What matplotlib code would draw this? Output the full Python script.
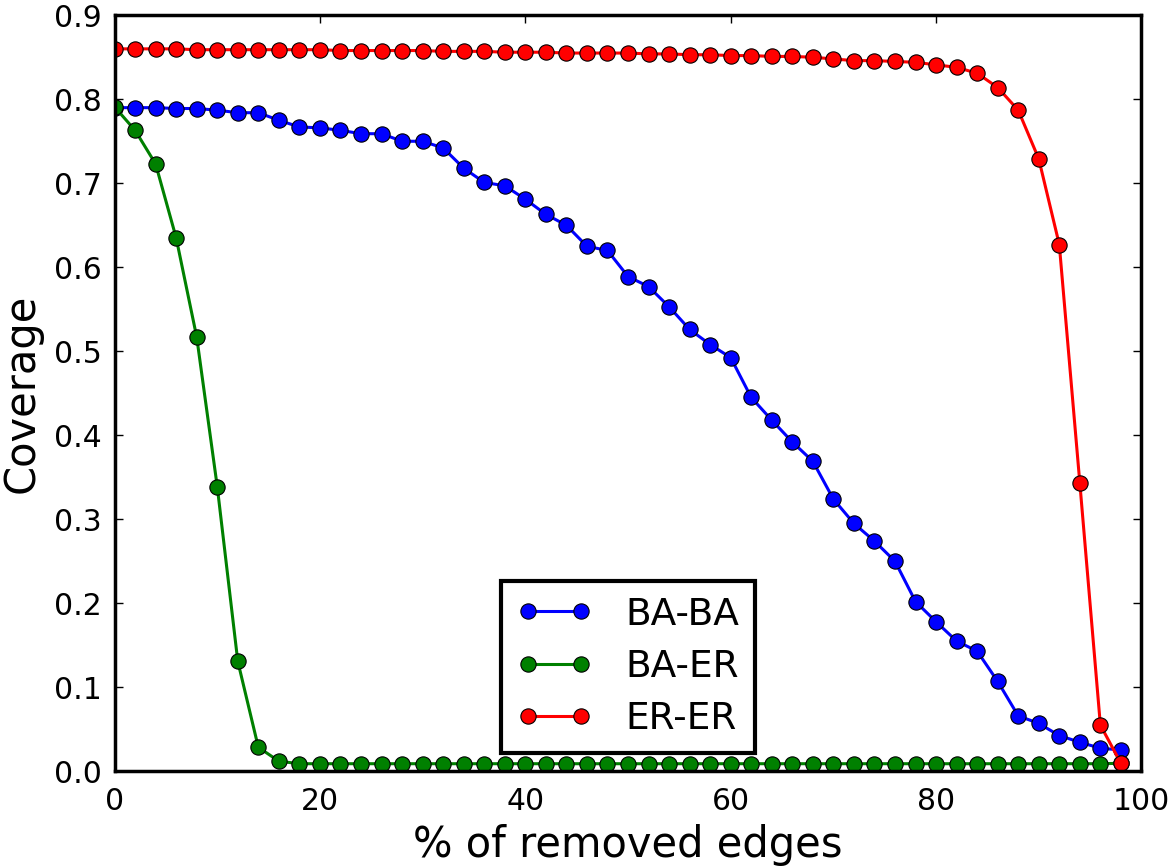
import matplotlib
matplotlib.use("Agg")
import matplotlib.pyplot as plt

# porcentaje de aristas removidas (eje x)
removed_pct = list(range(0, 100, 2))

ba_ba = [0.790, 0.790, 0.790, 0.789, 0.789, 0.787, 0.784, 0.784, 0.775, 0.767,
         0.766, 0.763, 0.759, 0.759, 0.750, 0.750, 0.742, 0.718, 0.701, 0.697,
         0.681, 0.663, 0.650, 0.625, 0.620, 0.589, 0.577, 0.553, 0.526, 0.508,
         0.4925, 0.445, 0.418, 0.392, 0.369, 0.324, 0.295, 0.274, 0.250, 0.202,
         0.178, 0.155, 0.143, 0.107, 0.066, 0.057, 0.0425, 0.0346, 0.0274, 0.0254]

ba_er = [0.791, 0.763, 0.723, 0.635, 0.517, 0.339, 0.131, 0.0286, 0.012, 0.009,
         0.009, 0.009, 0.009, 0.009, 0.009, 0.009, 0.009, 0.009, 0.009, 0.009,
         0.009, 0.009, 0.009, 0.009, 0.009, 0.009, 0.009, 0.009, 0.009, 0.009,
         0.009, 0.009, 0.009, 0.009, 0.009, 0.009, 0.009, 0.009, 0.009, 0.009,
         0.009, 0.009, 0.009, 0.009, 0.009, 0.009, 0.009, 0.009, 0.009, 0.0095]

er_er = [0.860, 0.860, 0.860, 0.860, 0.859, 0.859, 0.859, 0.859, 0.859, 0.859,
         0.859, 0.858, 0.858, 0.858, 0.858, 0.858, 0.857, 0.857, 0.857, 0.856,
         0.856, 0.856, 0.855, 0.855, 0.855, 0.855, 0.854, 0.854, 0.853, 0.853,
         0.852, 0.852, 0.851, 0.851, 0.850, 0.848, 0.846, 0.846, 0.845, 0.844,
         0.841, 0.838, 0.831, 0.814, 0.787, 0.729, 0.627, 0.343, 0.055, 0.0095]

series = [("BA-BA", ba_ba, "b"), ("BA-ER", ba_er, "g"), ("ER-ER", er_er, "r")]

fig = plt.figure(figsize=(11.7, 8.67), dpi=100)
ax = fig.add_axes([0.0979, 0.1104, 0.8777, 0.872])

for name, values, color in series:
    ax.plot(removed_pct, values, "-o", color=color, linewidth=2.2,
            markersize=11, markeredgecolor="black", markeredgewidth=0.8,
            label=name)

ax.set_xlim(0, 100)
ax.set_ylim(0, 0.9)
ax.set_xticks([0, 20, 40, 60, 80, 100])
ax.set_yticks([0.0, 0.1, 0.2, 0.3, 0.4, 0.5, 0.6, 0.7, 0.8, 0.9])

for spine in ax.spines.values():
    spine.set_linewidth(2.5)

ax.tick_params(direction="in", top=True, right=True, length=6, width=1,
               labelsize=21.5)
ax.tick_params(axis="x", pad=11)
ax.tick_params(axis="y", pad=9)

ax.set_xlabel("% of removed edges", fontsize=30, labelpad=6)
ax.set_ylabel("Coverage", fontsize=30, labelpad=8)

leg = ax.legend(loc="lower center", fontsize=27, numpoints=2, fancybox=False,
                framealpha=1, handlelength=2.0, handletextpad=0.88,
                borderpad=0.42, labelspacing=0.43, borderaxespad=0.5)
leg.get_frame().set_edgecolor("black")
leg.get_frame().set_linewidth(3)

fig.savefig("out.png", dpi=100)
